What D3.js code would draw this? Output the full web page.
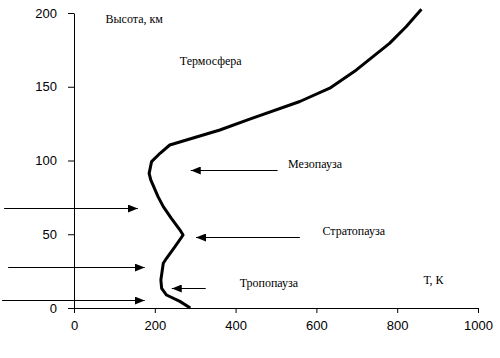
<!DOCTYPE html>
<html><head><meta charset="utf-8">
<script src="https://cdn.jsdelivr.net/npm/d3@7"></script>
<style>body{margin:0;background:#fff}</style>
</head><body>
<svg id="c" width="500" height="358"></svg>
<script>
// Temperature profile: T (K) vs altitude (km)
const temperature = [288,262,229,217,215,221,229,250,270,262,241,221,208,190,186,192,213,237,361,435,559,633,699,740,781,822,860];
const altitude    = [0,4.5,8.8,13.3,19,30.3,33.7,41.6,49.5,53,60.8,68.7,75.5,86.8,91.3,99.2,104.9,110.5,120.7,128,140,149,161.4,170.4,179.4,190.7,202.5];
const xTicks = [0,200,400,600,800,1000];
const yTicks = [0,50,100,150,200];
// Layer labels: text, T, altitude
const labelText = ["Высота, км","Термосфера","Мезопауза","Стратопауза","Тропопауза","Т, К"];
const labelT    = [78,262,530,615,410,865];
const labelH    = [193.2,165,95.2,49.2,14.2,16];
// Arrows: altitude, tail T, tip T
const arrowH    = [67.8,27.8,5.4,93.6,47.8,13.6];
const arrowFrom = [-173,-163,-178,504,559,326];
const arrowTo   = [158,175,175,289,302,242];

const svg = d3.select("#c");
const x = d3.scaleLinear().domain([0,1000]).range([74,478]);
const y = d3.scaleLinear().domain([0,200]).range([308,13]);

svg.append("defs").append("marker")
  .attr("id","ah").attr("viewBox","0 0 10 8").attr("refX",10).attr("refY",4)
  .attr("markerWidth",10).attr("markerHeight",8).attr("markerUnits","userSpaceOnUse")
  .attr("orient","auto")
  .append("path").attr("d","M0,0L10,4L0,8Z").attr("fill","#000");

const ax = svg.append("g").attr("transform","translate(0,308)")
  .call(d3.axisBottom(x).tickValues(xTicks).tickFormat(d3.format("d")).tickSize(5).tickSizeOuter(0).tickPadding(8));
const ay = svg.append("g").attr("transform","translate(74,0)")
  .call(d3.axisLeft(y).tickValues(yTicks).tickFormat(d3.format("d")).tickSize(6).tickSizeOuter(0).tickPadding(11));
[ax,ay].forEach(g=>{
  g.selectAll("path,line").attr("stroke","#000").attr("stroke-width",1);
  g.selectAll("text").attr("font-family","'Liberation Sans',Arial,sans-serif").attr("font-size",13).attr("fill","#000");
});

const pts = temperature.map((t,i)=>[t,altitude[i]]);
svg.append("path").datum(pts)
  .attr("d", d3.line().x(d=>x(d[0])).y(d=>y(d[1])))
  .attr("fill","none").attr("stroke","#000").attr("stroke-width",3).attr("stroke-linejoin","round");

svg.selectAll(".arr").data(arrowH).enter().append("line")
  .attr("x1",(d,i)=>x(arrowFrom[i])).attr("x2",(d,i)=>x(arrowTo[i]))
  .attr("y1",d=>Math.round(y(d))+0.5).attr("y2",d=>Math.round(y(d))+0.5)
  .attr("stroke","#000").attr("stroke-width",1).attr("marker-end","url(#ah)");

svg.selectAll(".lbl").data(labelText).enter().append("text")
  .attr("x",(d,i)=>x(labelT[i])).attr("y",(d,i)=>y(labelH[i]))
  .attr("font-family","'Liberation Serif','Times New Roman',serif").attr("font-size",12)
  .attr("fill","#000").text(d=>d);
</script>
</body></html>
